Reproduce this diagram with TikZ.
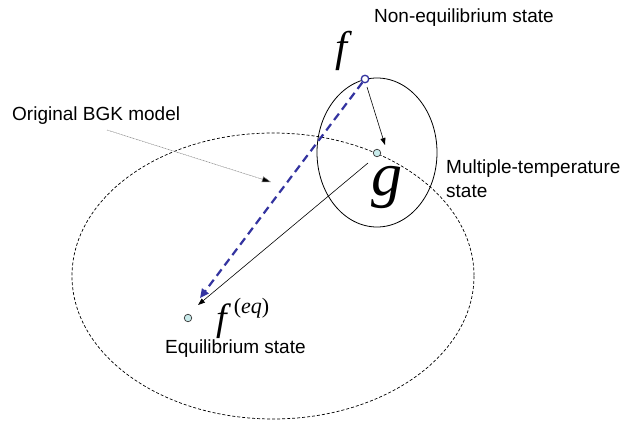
\documentclass[tikz,border=0pt]{standalone}
\usepackage{fontspec}
\setmainfont{Liberation Sans}
\newfontfamily\timesf{Liberation Serif}
\usetikzlibrary{arrows.meta}
\definecolor{bluedash}{RGB}{51,51,160}
\definecolor{ptfill}{RGB}{200,235,235}
\begin{document}
\begin{tikzpicture}[x=1pt,y=-1pt,
  lbl/.style={inner sep=0pt,font=\fontsize{19}{22}\selectfont,anchor=base west},
  sym/.style={inner sep=0pt,anchor=base west},
  pt/.style={circle,draw=black!80,fill=ptfill,line width=0.7pt,minimum size=7.5pt,inner sep=0pt},
  arr/.style={-{Triangle[length=7pt,width=5pt]},line width=0.6pt}]
\useasboundingbox (0,0) rectangle (624,425);
\fill[white] (0,0) rectangle (624,425);
% ellipses
\draw[dashed,dash pattern=on 3pt off 2pt,line width=0.7pt] (273,276) ellipse [x radius=201,y radius=143];
\draw[line width=0.8pt] (377,152.5) ellipse [x radius=60,y radius=74.5];
% points
\node[pt] (gpt) at (377,153) {};
\node[pt] (feqpt) at (188,318) {};
\node[circle,draw=bluedash,fill=white,line width=1.3pt,minimum size=7.5pt,inner sep=0pt] (fpt) at (365,79) {};
% coordinates
\coordinate (gtip) at (385,145);
\coordinate (gtail) at (368,163);
\coordinate (feqtip) at (198,305);
\coordinate (bluetip) at (200,298);
\coordinate (bgkstart) at (107,130);
\coordinate (bgktip) at (271,182);
% arrows
\draw[arr] (fpt) ++(2,8) -- (gtip);
\draw[arr] (gtail) -- (feqtip);
\draw[dashed,dash pattern=on 8pt off 5pt,line width=2.2pt,draw=bluedash,-{Triangle[length=9pt,width=8pt]}] (fpt) -- (bluetip);
\draw[draw=gray,line width=0.5pt,dash pattern=on 1pt off 0.6pt,-{Triangle[length=9pt,width=6pt,fill=black]}] (bgkstart) -- (bgktip);
% labels
\node[lbl] (noneq) at (374,23) {Non-equilibrium state};
\node[lbl] (bgk) at (12,121) {Original BGK model};
\node[lbl] (multi) at (446,174) {Multiple-temperature};
\node[lbl] (multi2) at (446,197) {state};
\node[lbl] (eqst) at (165,353) {Equilibrium state};
\node[sym,font=\timesf\itshape\fontsize{43}{43}\selectfont] (fsym) at (335,62) {f};
\node[sym,font=\timesf\itshape\fontsize{62}{62}\selectfont] (gsym) at (371,196) {g};
\node[sym,font=\timesf\itshape\fontsize{38}{38}\selectfont] (feqsym) at (216,330) {f\hspace{7pt}\raisebox{17pt}{\fontsize{22}{22}\selectfont\upshape(\itshape eq\upshape)}};
\end{tikzpicture}
\end{document}
